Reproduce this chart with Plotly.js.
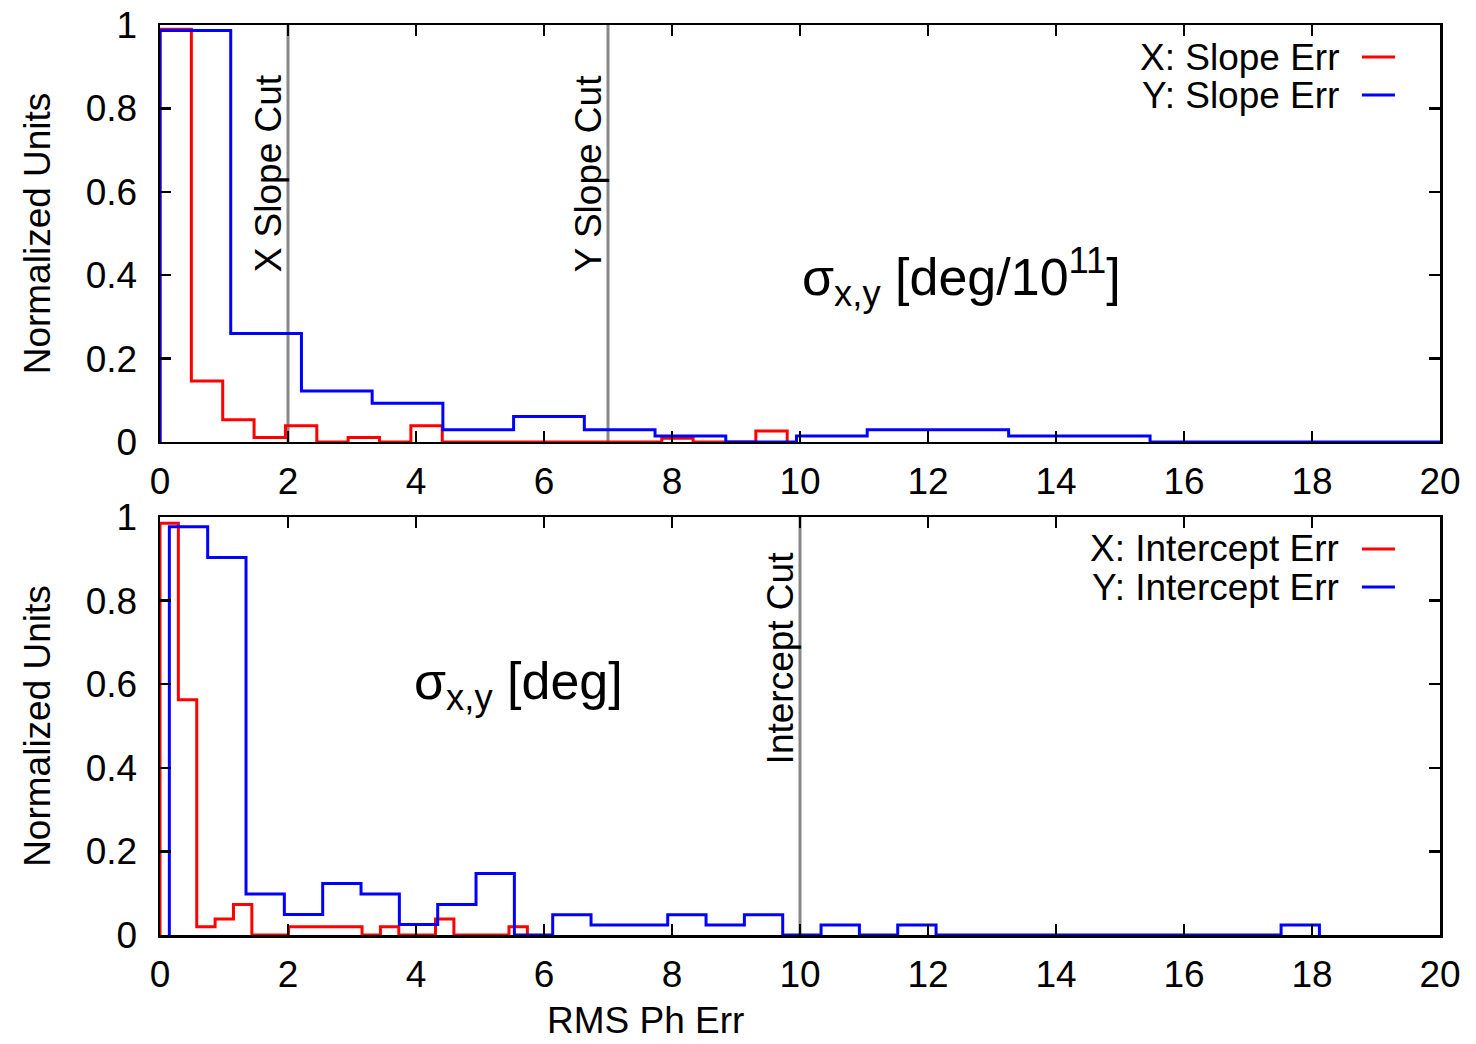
<!DOCTYPE html>
<html>
<head>
<meta charset="utf-8">
<script src="https://cdn.plot.ly/plotly-3.0.1.min.js"></script>
<style>
  html, body { margin: 0; padding: 0; background: #fff; }
  #chart { width: 1476px; height: 1044px; }
</style>
</head>
<body>
<div id="chart"></div>
<script>
// ---- Slope error histograms (top panel) ----
const slopeXStart = 0;
const slopeXWidth = 0.49;
const slopeXValues = [0.99, 0.146, 0.053, 0.011, 0.039, 0, 0.011, 0, 0.039, 0,
                      0, 0, 0, 0, 0, 0, 0.009, 0, 0, 0.026];

const slopeYStart = 0;
const slopeYWidth = 1.105;
const slopeYValues = [0.987, 0.26, 0.122, 0.093, 0.029, 0.061, 0.029, 0.014, 0, 0.014,
                      0.029, 0.029, 0.014, 0.014, 0, 0, 0, 0, 0];

// ---- Intercept error histograms (bottom panel) ----
const interceptXStart = 0;
const interceptXWidth = 0.287;
const interceptXValues = [0.985, 0.563, 0.020, 0.038, 0.073, 0, 0, 0.020, 0.020, 0.020,
                          0.020, 0, 0.020, 0, 0, 0.038, 0, 0, 0, 0.020];

const interceptYStart = 0.146;
const interceptYWidth = 0.599;
const interceptYValues = [0.977, 0.903, 0.098, 0.049, 0.123, 0.098, 0.025, 0.073, 0.147, 0,
                          0.0485, 0.024, 0.024, 0.0485, 0.024, 0.0485, 0, 0.024, 0, 0.024,
                          0, 0, 0, 0, 0, 0, 0, 0, 0, 0.024];

// ---- Cuts ----
const slopeCuts = [2, 7];
const slopeCutLabels = ['X Slope Cut', 'Y Slope Cut'];
const interceptCuts = [10];
const interceptCutLabels = ['Intercept Cut'];

// ---- Labels ----
const slopeNames = ['X: Slope Err', 'Y: Slope Err'];
const interceptNames = ['X: Intercept Err', 'Y: Intercept Err'];
const seriesColors = ['#ff0000', '#0000ff'];
const xTickValues = [0, 2, 4, 6, 8, 10, 12, 14, 16, 18, 20];
const yTickValues = [0, 0.2, 0.4, 0.6, 0.8, 1];

const FONT = 'Liberation Sans, Arial, Helvetica, sans-serif';
const FS = 37;

// Build an outlined step histogram from a bin start, a bin width and the bin heights.
function stepHistogram(start, width, values) {
  const x = [start];
  const y = [0];
  values.forEach(function (v, i) {
    x.push(start + i * width);
    y.push(v);
  });
  x.push(start + values.length * width);
  y.push(0);
  return { x: x, y: y };
}

function histTrace(start, width, values, name, color, xa, ya) {
  const s = stepHistogram(start, width, values);
  return {
    type: 'scatter', mode: 'lines', name: name,
    x: s.x, y: s.y, xaxis: xa, yaxis: ya,
    line: { shape: 'hv', color: color, width: 3 },
    hoverinfo: 'skip', showlegend: false
  };
}

const traces = [
  histTrace(slopeXStart, slopeXWidth, slopeXValues, slopeNames[0], seriesColors[0], 'x', 'y'),
  histTrace(slopeYStart, slopeYWidth, slopeYValues, slopeNames[1], seriesColors[1], 'x', 'y'),
  histTrace(interceptXStart, interceptXWidth, interceptXValues, interceptNames[0], seriesColors[0], 'x2', 'y2'),
  histTrace(interceptYStart, interceptYWidth, interceptYValues, interceptNames[1], seriesColors[1], 'x2', 'y2')
];

function xAxis(anchor) {
  return {
    anchor: anchor, domain: [0, 1], range: [0, 20],
    tickmode: 'array', tickvals: xTickValues,
    showline: true, linecolor: '#000', linewidth: 2.5, mirror: 'ticks',
    ticks: 'inside', ticklen: 11, tickwidth: 2.5, tickcolor: '#000',
    showgrid: false, zeroline: false, ticklabelstandoff: 5,
    tickfont: { family: FONT, size: FS, color: '#000' }
  };
}
function yAxis(anchor, domain) {
  return {
    anchor: anchor, domain: domain, range: [0, 1],
    tickmode: 'array', tickvals: yTickValues,
    showline: true, linecolor: '#000', linewidth: 2.5, mirror: 'ticks',
    ticks: 'inside', ticklen: 11, tickwidth: 2.5, tickcolor: '#000',
    showgrid: false, zeroline: false, ticklabelstandoff: 13,
    tickfont: { family: FONT, size: FS, color: '#000' },
    title: { text: 'Normalized Units', standoff: 24, font: { family: FONT, size: FS, color: '#000' } }
  };
}

const shapes = [];
const annotations = [];

// vertical cut markers with rotated labels
function addCuts(cuts, labels, xref, yref, labelY) {
  cuts.forEach(function (c, i) {
    shapes.push({
      type: 'line', xref: xref, yref: yref + ' domain',
      x0: c, x1: c, y0: 0, y1: 1,
      line: { color: '#888888', width: 3 }, layer: 'below'
    });
    annotations.push({
      text: labels[i], xref: xref, yref: yref + ' domain',
      x: c, y: labelY, xanchor: 'right', yanchor: 'middle', xshift: 3,
      textangle: -90, showarrow: false,
      font: { family: FONT, size: FS, color: '#000' }
    });
  });
}
addCuts(slopeCuts, slopeCutLabels, 'x', 'y', 0.643);
addCuts(interceptCuts, interceptCutLabels, 'x2', 'y2', 0.663);

// key entries: right-aligned text followed by a short line sample
function addKey(names, yPositions) {
  names.forEach(function (n, i) {
    annotations.push({
      text: n, xref: 'paper', yref: 'paper', x: 0.9225, y: yPositions[i],
      xanchor: 'right', yanchor: 'middle', showarrow: false,
      font: { family: FONT, size: FS, color: '#000' }
    });
    shapes.push({
      type: 'line', xref: 'paper', yref: 'paper',
      x0: 0.939, x1: 0.9648, y0: yPositions[i], y1: yPositions[i],
      line: { color: seriesColors[i], width: 3 }
    });
  });
}
addKey(slopeNames, [0.9648, 0.923]);
addKey(interceptNames, [0.4242, 0.3824]);

// unit captions inside each panel
annotations.push({
  text: 'σ<sub>x,y</sub> [deg/10<sup>11</sup>]', xref: 'x', yref: 'y domain',
  x: 12.52, y: 0.395, xanchor: 'center', yanchor: 'middle', showarrow: false,
  font: { family: FONT, size: 52, color: '#000' }
});
annotations.push({
  text: 'σ<sub>x,y</sub> [deg]', xref: 'x2', yref: 'y2 domain',
  x: 5.6, y: 0.597, xanchor: 'center', yanchor: 'middle', showarrow: false,
  font: { family: FONT, size: 52, color: '#000' }
});

// x axis caption below the lower panel
annotations.push({
  text: 'RMS Ph Err', xref: 'paper', yref: 'paper',
  x: 0.379, y: -0.1178, xanchor: 'center', yanchor: 'bottom', showarrow: false,
  borderpad: 0,
  font: { family: FONT, size: FS, color: '#000' }
});

const layout = {
  width: 1476, height: 1044,
  margin: { l: 160, r: 36, t: 25, b: 109 },
  paper_bgcolor: '#fff', plot_bgcolor: '#fff',
  showlegend: false,
  xaxis: xAxis('y'),
  yaxis: yAxis('x', [0.5418, 1]),
  xaxis2: xAxis('y2'),
  yaxis2: yAxis('x2', [0, 0.4593]),
  shapes: shapes,
  annotations: annotations,
  font: { family: FONT, color: '#000' }
};

Plotly.newPlot('chart', traces, layout, { displayModeBar: false, staticPlot: true });
</script>
</body>
</html>
